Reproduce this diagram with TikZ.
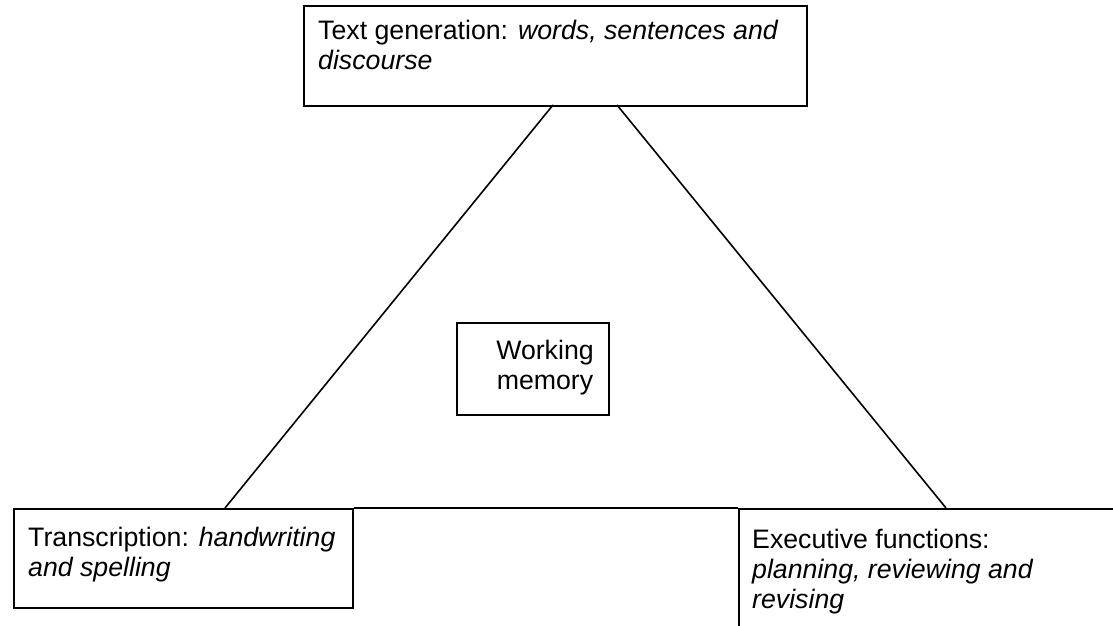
\documentclass[tikz,border=0pt]{standalone}
\usepackage{fontspec}
\setmainfont{Liberation Sans}
\begin{document}
\begin{tikzpicture}[x=1pt,y=-1pt,
  boxs/.style={draw,line width=1.6pt,rectangle,inner sep=0pt,anchor=north west},
  txt/.style={inner sep=0pt,anchor=base west,font=\fontsize{26.7}{30.7}\selectfont},
  ctxt/.style={inner sep=0pt,anchor=base,font=\fontsize{26.7}{30.7}\selectfont},
  link/.style={line width=1.6pt}]
\useasboundingbox (0,0) rectangle (1113,626);
\clip (0,0) rectangle (1113,626);
% boxes
\node[boxs,minimum width=503pt,minimum height=100pt] (tg) at (303,5) {};
\node[boxs,minimum width=339pt,minimum height=99pt] (tr) at (13,508) {};
\node[boxs,minimum width=400pt,minimum height=140pt] (ex) at (738,508) {};
\node[boxs,minimum width=152pt,minimum height=92pt] (wm) at (456,322) {};
% texts
\node[txt] (tg1) at (318,40) {Text generation: \textit{words, sentences and}};
\node[txt] (tg2) at (318,70) {\textit{discourse}};
\node[txt] (tr1) at (28,546) {Transcription: \textit{handwriting}};
\node[txt] (tr2) at (28,576) {\textit{and spelling}};
\node[txt] (ex1) at (752,548) {Executive functions:};
\node[txt] (ex2) at (752,578) {\textit{planning, reviewing and}};
\node[txt] (ex3) at (752,608) {\textit{revising}};
\node[ctxt] (wm1) at (545,359) {Working};
\node[ctxt] (wm2) at (545,389) {memory};
% connectors
\coordinate (tgl) at (553,105);
\coordinate (tgr) at (617,105);
\coordinate (trf) at (225,508);
\coordinate (exf) at (946,508);
\draw[link] (tgl) -- (trf);
\draw[link] (tgr) -- (exf);
\draw[link] (tr.north east) -- (ex.north west);
\end{tikzpicture}
\end{document}
